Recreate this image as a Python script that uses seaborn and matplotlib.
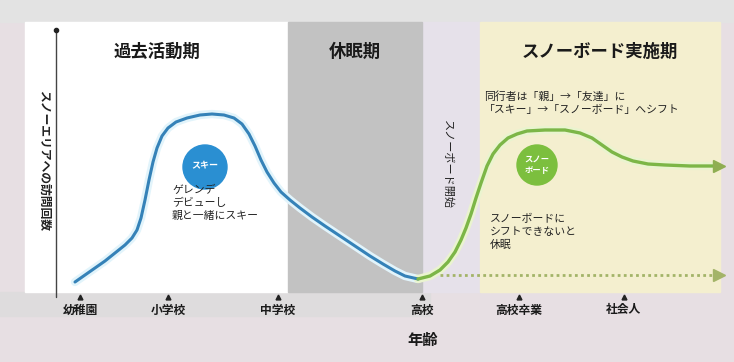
import matplotlib
matplotlib.use("Agg")
import matplotlib.pyplot as plt
import seaborn as sns
import pandas as pd
from matplotlib.patches import Rectangle, Circle

sns.set_theme(style="white")
plt.rcParams["font.family"] = ["Noto Sans CJK JP", "DejaVu Sans"]

# ---- data (canvas units, y grows downward) ----
stage_labels = ["幼稚園", "小学校", "中学校", "高校", "高校卒業", "社会人"]
stage_x = [80, 168, 278, 422, 519, 624]

ski_x = [75, 85, 95, 105, 115, 125, 132, 137, 141, 145, 149, 153, 157, 162,
         168, 176, 187, 200, 212, 224, 234, 242, 249, 255, 261, 267, 274, 281,
         290, 300, 312, 325, 340, 355, 370, 383, 395, 405, 418]
ski_y = [282, 275, 268, 261, 253, 245, 238, 230, 218, 200, 180, 162, 148, 136,
         128, 122, 118, 115, 114, 115, 118, 124, 134, 146, 160, 172, 183, 192,
         200, 208, 217, 226, 236, 246, 256, 264, 271, 276, 279]

board_x = [418, 430, 440, 448, 455, 461, 466, 471, 476, 481, 487, 493, 500,
           508, 517, 527, 545, 565, 580, 592, 602, 612, 622, 633, 648, 665,
           690, 716]
board_y = [279, 276, 270, 262, 252, 240, 228, 214, 198, 183, 166, 154, 145,
           138, 134, 131, 130, 130, 133, 138, 145, 152, 157, 161, 164, 165,
           166, 166]

quit_x = [440, 716]
quit_y = [275, 275]

period_titles = ["過去活動期", "休眠期", "スノーボード実施期"]
period_spans = [(25, 288), (288, 422), (480, 720)]
period_colors = ["#ffffff", "#c2c2c2", "#f4efcf"]

W, H = 734, 362
fig = plt.figure(figsize=(W / 100, H / 100), dpi=100)
fig.patch.set_facecolor("#e7dfe3")
ax = fig.add_axes([0, 0, 1, 1])
ax.set_xlim(0, W)
ax.set_ylim(H, 0)
ax.axis("off")

# backdrop bands
ax.add_patch(Rectangle((0, 0), W, 22, color="#e3e3e3", zorder=0))
ax.add_patch(Rectangle((0, 292), 430, 24, color="#dedcdd", zorder=0))
ax.add_patch(Rectangle((422, 22), 58, 270, color="#e6e1ea", zorder=0.5))

# period panels
for (x0, x1), col, title in zip(period_spans, period_colors, period_titles):
    ax.add_patch(Rectangle((x0, 22), x1 - x0, 270, color=col, zorder=1))
    ax.text((x0 + x1) / 2, 52, title, ha="center", va="center",
            fontsize=12.5, fontweight="bold", color="#1a1a1a", zorder=5)

# vertical axis
ax.plot([56, 56], [30, 297], color="#444444", lw=1.0, zorder=3)
ax.plot([56], [30], marker="o", ms=3, color="#222222", zorder=3)
ax.text(44, 161, "スノーエリアへの訪問回数", rotation=-90, ha="center",
        va="center", fontsize=8.5, fontweight="bold", color="#222222", zorder=5)

# stage ticks and labels
ax.plot(stage_x, [297] * len(stage_x), linestyle="none", marker="^", ms=3.5,
        color="#222222", zorder=5)
for sx, lab in zip(stage_x, stage_labels):
    ax.text(sx, 310, lab, ha="center", va="center", fontsize=8.5,
            fontweight="bold", color="#1a1a1a", zorder=5)
ax.text(423, 340, "年齢", ha="center", va="center", fontsize=11,
        fontweight="bold", color="#1a1a1a", zorder=5)

# curves
ski = pd.DataFrame({"x": ski_x, "y": ski_y})
board = pd.DataFrame({"x": board_x, "y": board_y})
quit_df = pd.DataFrame({"x": quit_x, "y": quit_y})

sns.lineplot(data=ski, x="x", y="y", sort=False, estimator=None, ax=ax,
             color="#e2f4fb", lw=6, zorder=2, solid_capstyle="round")
sns.lineplot(data=ski, x="x", y="y", sort=False, estimator=None, ax=ax,
             color="#3582b8", lw=2.2, zorder=4, solid_joinstyle="round")
sns.lineplot(data=board, x="x", y="y", sort=False, estimator=None, ax=ax,
             color="#eaf4cf", lw=6, zorder=2, solid_capstyle="round")
sns.lineplot(data=board, x="x", y="y", sort=False, estimator=None, ax=ax,
             color="#7cb647", lw=2.4, zorder=4, solid_joinstyle="round")
sns.lineplot(data=quit_df, x="x", y="y", sort=False, estimator=None, ax=ax,
             color="#a3b468", lw=2.0, linestyle=(0, (1, 1.2)), zorder=4)
ax.plot([board_x[-1] + 3], [board_y[-1]], marker=">", ms=8,
        color="#8fae52", zorder=4)
ax.plot([quit_x[-1] + 3], [quit_y[-1]], marker=">", ms=8,
        color="#a3b468", zorder=4)
ax.set_xlabel("")
ax.set_ylabel("")

# badges
ax.add_patch(Circle((205, 167), 22, color="#2a8fd2", zorder=5))
ax.text(205, 166, "スキー", ha="center", va="center", fontsize=6.5,
        fontweight="bold", color="white", zorder=6)
ax.add_patch(Circle((537, 165), 20, color="#7cbf3e", zorder=5))
ax.text(537, 165, "スノー\nボード", ha="center", va="center", fontsize=6,
        fontweight="bold", color="white", linespacing=1.3, zorder=6)

# annotations
ax.text(172, 203, "ゲレンデ\nデビューし\n親と一緒にスキー", ha="left", va="center",
        fontsize=7.8, color="#222222", linespacing=1.35, zorder=6)
ax.text(484, 103, "同行者は「親」→「友達」に\n「スキー」→「スノーボード」へシフト",
        ha="left", va="center", fontsize=7.8, color="#222222",
        linespacing=1.35, zorder=6)
ax.text(490, 232, "スノーボードに\nシフトできないと\n休眠", ha="left", va="center",
        fontsize=7.8, color="#222222", linespacing=1.35, zorder=6)
ax.text(447, 164, "スノーボード開始", rotation=-90, ha="center", va="center",
        fontsize=8, color="#222222", zorder=6)

fig.savefig("out.png", dpi=100, facecolor=fig.get_facecolor())
